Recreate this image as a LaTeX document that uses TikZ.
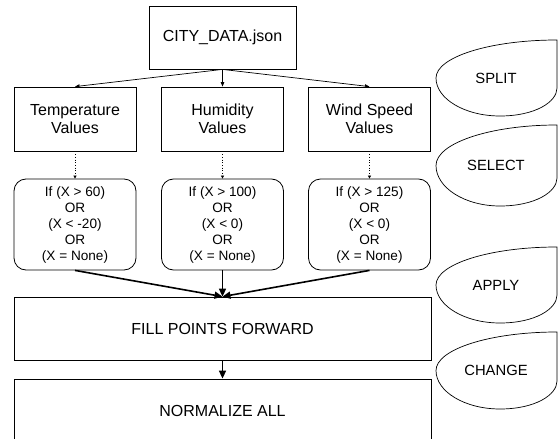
\documentclass[tikz,border=0pt]{standalone}
\usepackage{fontspec}
\setmainfont{Liberation Sans}
\usetikzlibrary{arrows.meta}

\begin{document}
\begin{tikzpicture}[x=1pt,y=-1pt,
  valbox/.style={draw,line width=0.8pt,minimum width=122pt,minimum height=64pt,inner sep=0pt,align=center,font=\fontsize{16}{18}\selectfont},
  testbox/.style={valbox,rounded corners=12pt,minimum height=91pt,font=\fontsize{13.6}{16}\selectfont},
  stagebox/.style={valbox,minimum width=417pt,minimum height=63pt},
  steplbl/.style={font=\fontsize{14.8}{17}\selectfont},
  splitarrow/.style={line width=0.7pt,-{Triangle[length=4.5pt,width=3.5pt]}},
  dotarrow/.style={line width=0.7pt,dotted,-{Triangle[length=3pt,width=3pt]}},
  mergearrow/.style={line width=1.6pt,-{Triangle[length=8pt,width=7pt]}}]

\useasboundingbox (0,0) rectangle (560,439);

\node[valbox,minimum width=147pt,minimum height=63pt] (data) at (222.5,37.5) {CITY\_DATA.json};

\node[valbox] (temp) at (75,119) {Temperature\\Values};
\node[valbox] (hum) at (222.5,119) {Humidity\\Values};
\node[valbox] (wind) at (369.5,119) {Wind Speed\\Values};

\node[testbox] (ttemp) at (75,224.5) {If (X > 60)\\OR\\(X < -20)\\OR\\(X = None)};
\node[testbox] (thum) at (222.5,224.5) {If (X > 100)\\OR\\(X < 0)\\OR\\(X = None)};
\node[testbox] (twind) at (369.5,224.5) {If (X > 125)\\OR\\(X < 0)\\OR\\(X = None)};

\node[stagebox] (fill) at (222.5,328.5) {FILL POINTS FORWARD};
\node[stagebox] (norm) at (222.5,410.5) {NORMALIZE ALL};

\draw[splitarrow] (data.south) -- (temp.north);
\draw[splitarrow] (data.south) -- (hum.north);
\draw[splitarrow] (data.south) -- (wind.north);

\draw[dotarrow] (temp) -- (ttemp);
\draw[dotarrow] (hum) -- (thum);
\draw[dotarrow] (wind) -- (twind);

\draw[mergearrow] (ttemp.south) -- (fill.north);
\draw[mergearrow] (thum.south) -- (fill.north);
\draw[mergearrow] (twind.south) -- (fill.north);

\draw[mergearrow] (fill) -- (norm);

\foreach \t/\b/\lbl in {40/116/SPLIT,125/206/SELECT,247/323/APPLY,332/409/CHANGE}{
  \draw[line width=0.7pt] (557,\t) .. controls (490,\t) and (436,{(\t+\b)/2-0.276*(\b-\t)}) .. (436,{(\t+\b)/2})
    .. controls (436,{(\t+\b)/2+0.276*(\b-\t)}) and (465,\b) .. (500,\b)
    .. controls (535,\b) and (557,{\b-14}) .. (557,{\b-28}) -- cycle;
  \node[steplbl] (\lbl) at (496,{(\t+\b)/2}) {\lbl};
}
\end{tikzpicture}
\end{document}
